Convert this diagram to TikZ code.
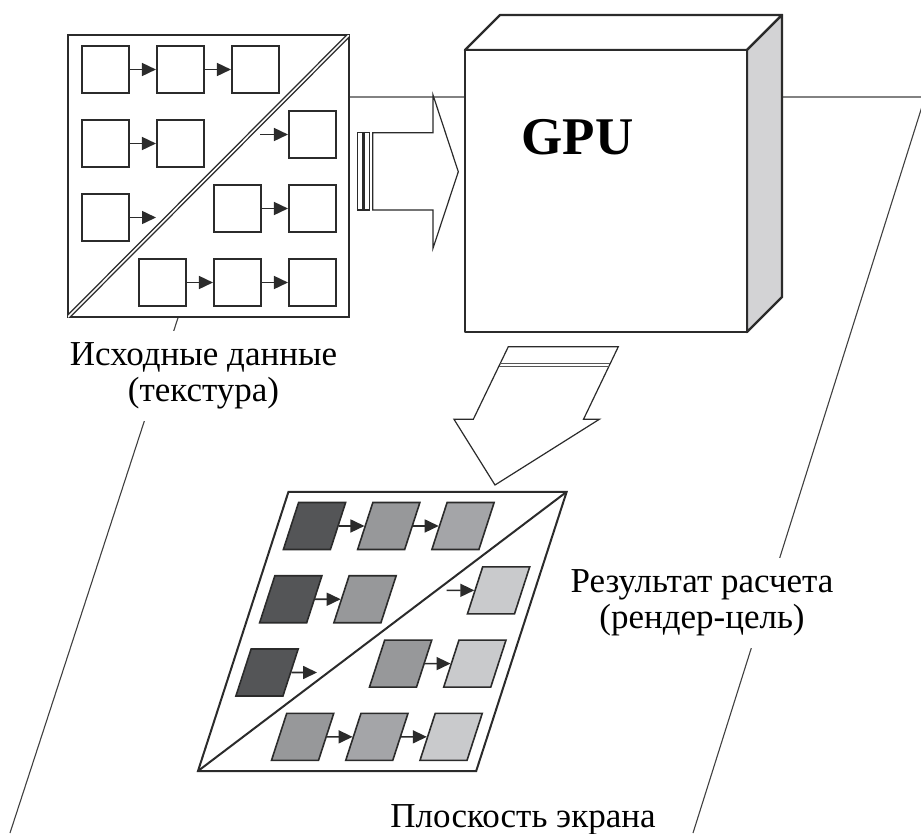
\documentclass[tikz,border=0pt]{standalone}
\usepackage{fontspec}
\setmainfont{Liberation Serif}
\usetikzlibrary{arrows.meta}

\definecolor{ink}{HTML}{2B2B2B}
\definecolor{celldark}{HTML}{545557}
\definecolor{cellmid}{HTML}{97989A}
\definecolor{cellmidb}{HTML}{A4A5A8}
\definecolor{celllight}{HTML}{C9CACC}
\definecolor{gpuside}{HTML}{D3D3D5}

% cells and links of one data block, #1 = prefix of the node names
\newcommand\cellgrid[1]{%
  \foreach \k/\x/\y/\t in {11/105.5/69.5/a, 12/180.5/69.5/b, 13/255.5/69.5/c,
                           21/105.5/143.5/a, 22/180.5/143.5/b, 24/312.5/134.5/d,
                           31/105.5/217.5/a, 33/237.5/208.5/b, 34/312.5/208.5/d,
                           42/162.5/282.5/b, 43/237.5/282.5/c, 44/312.5/282.5/d}
    \node[cell, tone \t] (#1\k) at (\x,\y) {};
  \coordinate (#1in) at (260,134.5);
  \coordinate (#1out) at (156,217.5);
  \draw[link] (#111) -- (#112);
  \draw[link] (#112) -- (#113);
  \draw[link] (#121) -- (#122);
  \draw[link] (#1in) -- (#124);
  \draw[link] (#131) -- (#1out);
  \draw[link] (#133) -- (#134);
  \draw[link] (#142) -- (#143);
  \draw[link] (#143) -- (#144);
}

\begin{document}
\begin{tikzpicture}[x=1pt, y=-1pt, >={Triangle[length=14pt,width=13pt]},
  plane/.style={draw=ink!90, line width=1.1pt},
  frame/.style={draw=ink, line width=2.6pt, fill=white},
  cell/.style={draw=ink, line width=1.6pt, fill=white, minimum size=47.5pt, inner sep=0pt},
  tone a/.style={}, tone b/.style={}, tone c/.style={}, tone d/.style={},
  link/.style={->, draw=ink, line width=1.6pt},
  block/.style={draw=ink, line width=1.2pt, fill=white},
  box/.style={draw=ink, line width=2.4pt, line join=round},
  lbl/.style={fill=white, align=center, font=\fontsize{35}{36}\selectfont,
              inner xsep=2pt, inner ysep=12pt}]

\path[use as bounding box, fill=white] (0,0) rectangle (921,833);

% Screen plane
\draw[plane] (10,833) -- (250,97) -- (925,97) -- (693,833);

% Labels
\node[lbl] (src) at (203.5,376) {Исходные данные\\(текстура)};
\node[lbl] (res) at (702,603) {Результат расчета\\(рендер-цель)};
\node[lbl, fill=none, anchor=base] (scr) at (523,827) {Плоскость экрана};

% Source texture
\draw[frame] (68,35) rectangle (349,317);
\begin{scope}
  \clip (68,35) rectangle (349,317);
  \draw[ink, line width=1.4pt, double=white, double distance=1.6pt] (68,317) -- (349,35);
\end{scope}
\cellgrid{t}

% Texture fed into the GPU
\draw[block] (357.3,132.7) rectangle (362.3,210);
\draw[block] (364,132.7) rectangle (369.3,210);
\draw[block] (372.7,132.7) -- (433,132.7) -- (433,95) -- (458.3,171.7)
  -- (433,248.3) -- (433,210) -- (372.7,210) -- cycle;

% GPU block
\draw[box, fill=white] (465,50) -- (500,15) -- (782,15) -- (747,50) -- cycle;
\draw[box, fill=gpuside] (747,50) -- (782,15) -- (782,297) -- (747,332) -- cycle;
\draw[box, fill=white] (465,50) rectangle (747,332);
\node[font=\fontsize{53}{60}\selectfont\bfseries, anchor=base] (gpu) at (577.5,154) {GPU};

% Output down to the render target
\draw[block] (508.3,346.7) -- (618.3,346.7) -- (583.5,419.3) -- (599.3,419.3)
  -- (495,485) -- (454,419.3) -- (473.3,419.3) -- cycle;
\draw[ink!80, line width=1.2pt] (500.3,363.5) -- (610.3,363.5);
\draw[ink!80, line width=1.2pt] (498.9,366.5) -- (608.9,366.5);

% Render target, same layout seen in perspective
\begin{scope}[shift={(198,771)}, xslant=0.324, scale=0.99, shift={(-68,-317)},
  transform shape,
  tone a/.style={fill=celldark}, tone b/.style={fill=cellmid},
  tone c/.style={fill=cellmidb}, tone d/.style={fill=celllight}]
  \draw[frame, line width=2pt] (68,35) rectangle (349,317);
  \draw[ink, line width=2pt] (68,317) -- (349,35);
  \cellgrid{r}
\end{scope}

\end{tikzpicture}
\end{document}
